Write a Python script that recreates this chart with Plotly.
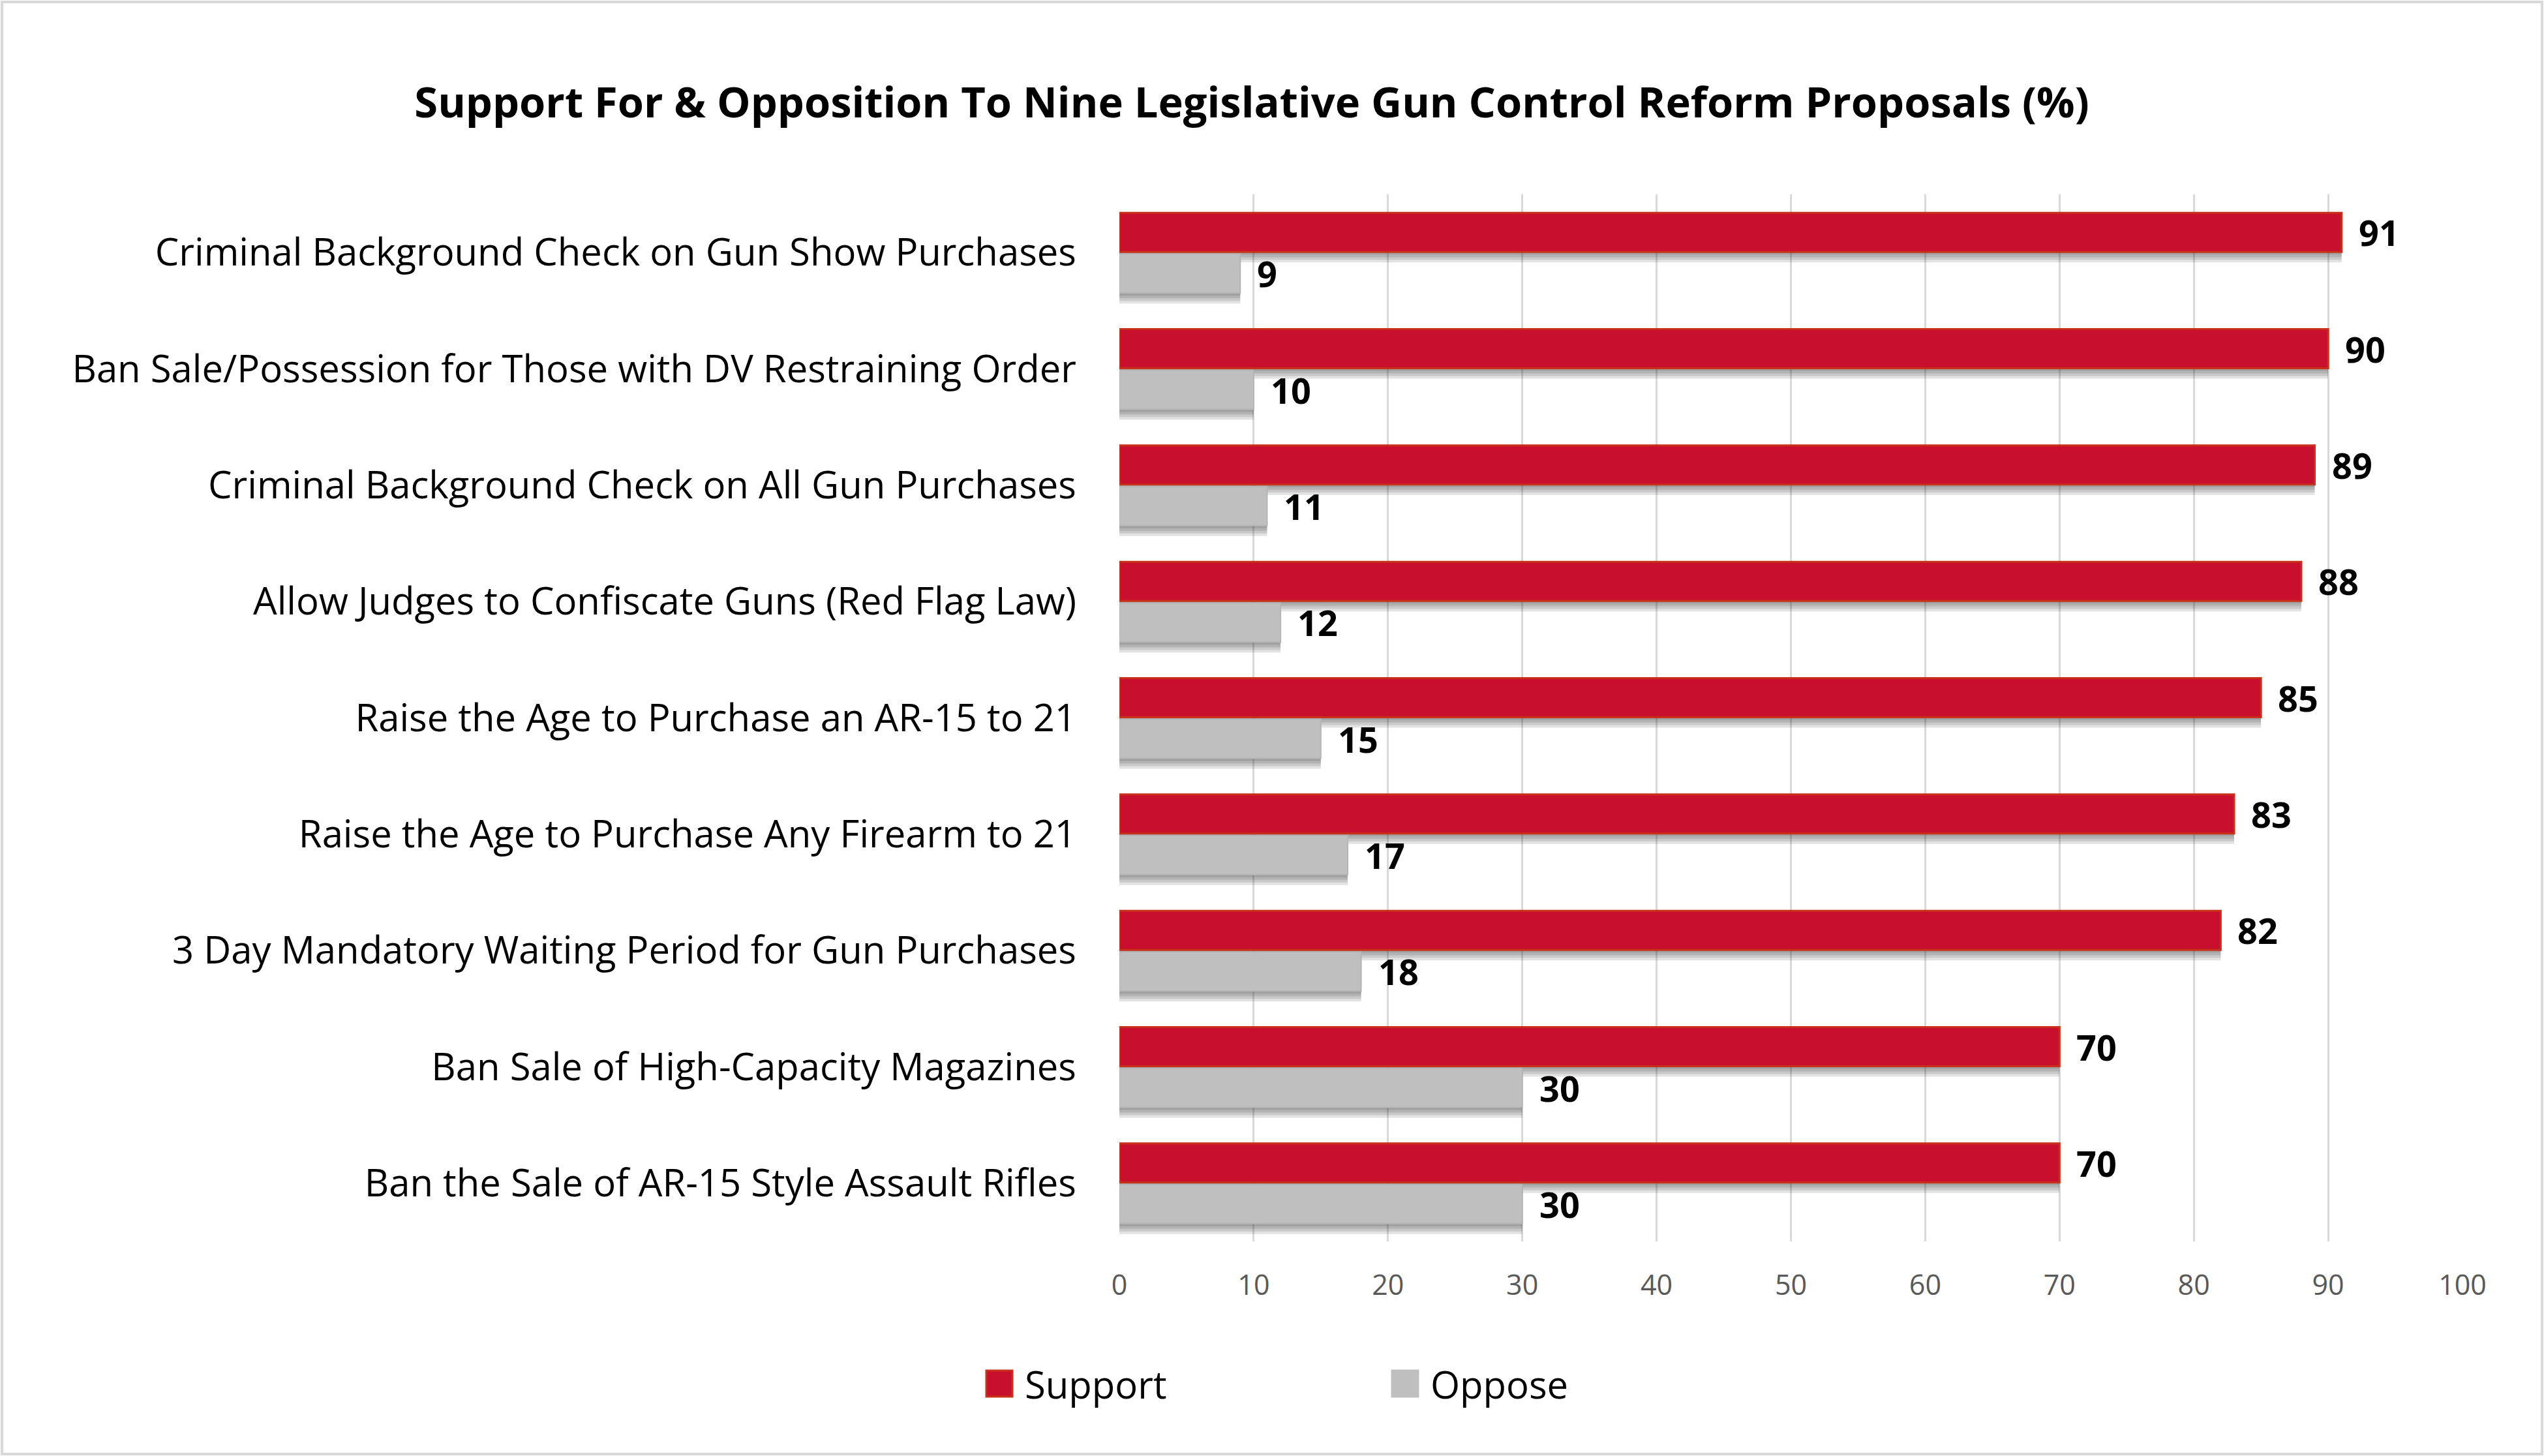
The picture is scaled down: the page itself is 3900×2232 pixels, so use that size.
import plotly.graph_objects as go

categories = [
    "Criminal Background Check on Gun Show Purchases",
    "Ban Sale/Possession for Those with DV Restraining Order",
    "Criminal Background Check on All Gun Purchases",
    "Allow Judges to Confiscate Guns (Red Flag Law)",
    "Raise the Age to Purchase an AR-15 to 21",
    "Raise the Age to Purchase Any Firearm to 21",
    "3 Day Mandatory Waiting Period for Gun Purchases",
    "Ban Sale of High-Capacity Magazines",
    "Ban the Sale of AR-15 Style Assault Rifles",
]
support = [91, 90, 89, 88, 85, 83, 82, 70, 70]
oppose = [9, 10, 11, 12, 15, 17, 18, 30, 30]
x_ticks = [0, 10, 20, 30, 40, 50, 60, 70, 80, 90, 100]

W, H = 3900, 2232
L, R, T, B = 1716, 125, 298, 329
PW, PH = W - L - R, H - T - B
CAT_PX = PH / len(categories)

RED = "#C8102E"
RED_EDGE = "#C9301A"
GRAY = "#BFBFBF"
FONT = "Open Sans"

BAR_W = 60 / CAT_PX
SUP_OFF = -61 / CAT_PX
OPP_OFF = 2 / CAT_PX


def px_x(p):
    return (p - L) / PW


def px_y(p):
    return (H - B - p) / PH


fig = go.Figure()

# soft drop shadows under the bars
for vals, base in ((support, SUP_OFF), (oppose, OPP_OFF)):
    for k in (1, 2, 3, 4):
        fig.add_trace(go.Bar(
            y=categories, x=vals, orientation="h",
            offset=base + k * 4 / CAT_PX, width=BAR_W,
            marker=dict(color="rgba(50,50,50,0.14)", line=dict(width=0)),
            hoverinfo="skip", showlegend=False,
        ))

fig.add_trace(go.Bar(
    y=categories, x=support, orientation="h", name="Support",
    offset=SUP_OFF, width=BAR_W,
    marker=dict(color=RED, line=dict(color=RED_EDGE, width=3)),
    hoverinfo="x+y",
))
fig.add_trace(go.Bar(
    y=categories, x=oppose, orientation="h", name="Oppose",
    offset=OPP_OFF, width=BAR_W,
    marker=dict(color=GRAY, line=dict(color="#B5B5B5", width=2)),
    hoverinfo="x+y",
))

annotations = []
for c, s, o in zip(categories, support, oppose):
    annotations.append(dict(x=s, y=c, xref="x", yref="y", text=f"<b>{s}</b>",
                            showarrow=False, xanchor="left", yanchor="middle",
                            xshift=24, yshift=31,
                            font=dict(family=FONT, size=54, color="#000000")))
    annotations.append(dict(x=o, y=c, xref="x", yref="y", text=f"<b>{o}</b>",
                            showarrow=False, xanchor="left", yanchor="middle",
                            xshift=24, yshift=-32,
                            font=dict(family=FONT, size=54, color="#000000")))

# custom legend (larger swatches)
legend_items = [("Support", RED, RED_EDGE, 1512, 1569), ("Oppose", GRAY, GRAY, 2134, 2191)]
shapes = []
for name, fill, edge, sx, tx in legend_items:
    shapes.append(dict(type="rect", xref="paper", yref="paper",
                       x0=px_x(sx), x1=px_x(sx + 40), y0=px_y(2141), y1=px_y(2101),
                       fillcolor=fill, line=dict(color=edge, width=3)))
    annotations.append(dict(x=px_x(tx), y=px_y(2121), xref="paper", yref="paper",
                            text=name, showarrow=False, xanchor="left", yanchor="middle",
                            font=dict(family=FONT, size=58, color="#000000")))

# chart border
shapes.append(dict(type="rect", xref="paper", yref="paper",
                   x0=px_x(3), x1=px_x(W - 3), y0=px_y(H - 3), y1=px_y(3),
                   line=dict(color="#D9D9D9", width=4), fillcolor="rgba(0,0,0,0)",
                   layer="below"))

fig.update_layout(
    width=W, height=H,
    margin=dict(l=L, r=R, t=T, b=B),
    paper_bgcolor="white", plot_bgcolor="white",
    barmode="overlay",
    showlegend=False,
    title=dict(text="<b>Support For & Opposition To Nine Legislative Gun Control Reform Proposals (%)</b>",
               xref="container", x=1919 / W, xanchor="center",
               yref="container", y=1 - 157 / H, yanchor="middle",
               font=dict(family=FONT, size=65, color="#000000")),
    xaxis=dict(range=[0, 100], tickvals=x_ticks, showgrid=True, gridcolor="#D9D9D9",
               gridwidth=3, zeroline=False, showline=False, ticks="",
               tickfont=dict(family=FONT, size=43, color="#595959"), ticklabelstandoff=38),
    yaxis=dict(autorange="reversed", showgrid=False, zeroline=False, showline=False,
               ticks="", ticklabelstandoff=65,
               tickfont=dict(family=FONT, size=58, color="#000000")),
    annotations=annotations, shapes=shapes,
)
fig.write_html("out.html", config={"displayModeBar": False},
               post_script="document.body.style.margin='0';")
